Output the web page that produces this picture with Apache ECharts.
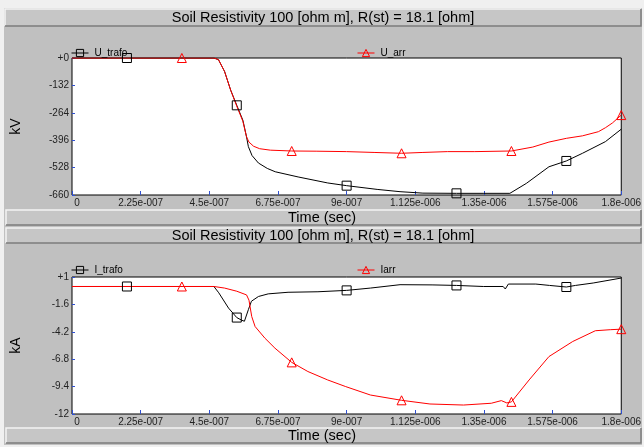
<!DOCTYPE html>
<html>
<head>
<meta charset="utf-8">
<script src="https://cdn.jsdelivr.net/npm/echarts@6/dist/echarts.min.js"></script>
<style>
html, body { margin: 0; padding: 0; background: #f0f0f0; }
#chart { width: 644px; height: 447px; }
</style>
</head>
<body>
<div id="chart"></div>
<script>
// time in ns, values in kV / kA
var titleText = 'Soil Resistivity 100 [ohm m], R(st) = 18.1 [ohm]';
var timeLabels = ['0', '2.25e-007', '4.5e-007', '6.75e-007', '9e-007', '1.125e-006', '1.35e-006', '1.575e-006', '1.8e-006'];
var squareTimes = [180, 540, 900, 1260, 1620];
var triangleTimes = [360, 720, 1080, 1440, 1800];

var uTrafo = [[0, 0], [180, 0], [360, 0], [465, 0], [480, -8], [500, -65], [520, -155], [540, -228], [560, -300],
    [572, -380], [578, -427], [590, -470], [611, -506], [640, -532], [666, -548], [741, -573], [838, -602],
    [900, -615], [1000, -633], [1075, -644], [1150, -651], [1260, -652], [1350, -652], [1435, -652],
    [1489, -604], [1563, -524], [1620, -496], [1673, -459], [1748, -403], [1800, -343]];
var uArr = [[0, 0], [360, 0], [465, 0], [480, -8], [500, -65], [520, -155], [540, -232], [560, -305],
    [572, -380], [580, -405], [595, -425], [615, -437], [650, -444], [720, -448], [800, -449], [900, -451],
    [990, -455], [1080, -459], [1150, -455], [1230, -451], [1320, -451], [1440, -448], [1510, -429],
    [1563, -405], [1620, -387], [1673, -375], [1725, -355], [1748, -336], [1771, -313], [1800, -275]];
var iTrafo = [[0, 0.1], [180, 0.1], [360, 0.1], [465, 0.1], [481, -0.5], [513, -1.95], [540, -2.85], [556, -3.1],
    [565, -3.2], [578, -2.1], [588, -1.3], [611, -0.85], [643, -0.6], [708, -0.45], [806, -0.4], [900, -0.27],
    [978, -0.05], [1075, 0.27], [1180, 0.25], [1260, 0.2], [1348, 0.1], [1413, 0.1], [1420, -0.14],
    [1430, 0.33], [1520, 0.33], [1565, 0.2], [1620, 0.05], [1650, 0.2], [1708, 0.43], [1800, 0.9]];
var iArr = [[0, 0.1], [360, 0.1], [465, 0.1], [500, -0.05], [540, -0.35], [572, -0.7], [580, -1.2], [589, -2.75],
    [600, -3.7], [632, -4.8], [665, -5.75], [720, -7.1], [773, -7.97], [838, -8.77], [897, -9.4], [978, -10.2],
    [1080, -10.7], [1173, -11.05], [1283, -11.15], [1374, -10.98], [1407, -10.73], [1425, -10.95],
    [1440, -10.85], [1498, -8.77], [1563, -6.55], [1641, -5.12], [1715, -4.1], [1764, -4.0], [1800, -3.95]];

var font = 'Liberation Sans, Arial, sans-serif';

// only the marker times keep their symbol
function toPoints(list, marks) {
    return list.map(function (p) {
        if (marks.indexOf(p[0]) != -1) {
            return p;
        }
        return {value: p, symbol: 'none'};
    });
}

function signed(v) {
    v = Math.round(v * 10) / 10;
    return v >= 0 ? '+' + v : '' + v;
}

function xAxis(idx) {
    return {
        type: 'value', gridIndex: idx, min: 0, max: 1800, interval: 225,
        axisLine: {show: false, onZero: false},
        axisTick: {inside: true, length: 4, lineStyle: {color: '#3050d0'}},
        splitLine: {show: false},
        axisLabel: {
            margin: 3, color: '#222', fontSize: 10, fontFamily: font, showMaxLabel: true,
            formatter: function (v) {
                var s = timeLabels[Math.round(v / 225)];
                return v == 0 ? '{first|' + s + '}' : s;
            },
            rich: {first: {padding: [0, 0, 0, 10], fontSize: 10, fontFamily: font, color: '#222'}}
        }
    };
}

function yAxis(idx, name, min, max, step) {
    return {
        type: 'value', gridIndex: idx, min: min, max: max, interval: step,
        name: name, nameLocation: 'middle', nameGap: 49, nameRotate: 90,
        nameTextStyle: {fontSize: 14, fontFamily: font, color: '#000'},
        axisLine: {show: false, onZero: false},
        axisTick: {inside: true, length: 3, lineStyle: {color: '#3050d0'}},
        splitLine: {show: false},
        axisLabel: {margin: 3, color: '#222', fontSize: 10, fontFamily: font, formatter: signed}
    };
}

function line(name, data, marks, color, symbol, axis) {
    return {
        name: name, type: 'line', xAxisIndex: axis, yAxisIndex: axis,
        data: toPoints(data, marks),
        symbol: symbol, symbolSize: 9, showAllSymbol: true,
        itemStyle: {color: 'rgba(0,0,0,0)', borderColor: color, borderWidth: 1},
        lineStyle: {color: color, width: 1},
        emphasis: {disabled: true}
    };
}

function legend(name, left, top) {
    return {
        data: [name], left: left, top: top, itemWidth: 17, itemHeight: 9, itemGap: 4,
        padding: 0, selectedMode: false,
        lineStyle: {width: 1},
        itemStyle: {color: 'rgba(0,0,0,0)', borderWidth: 1},
        textStyle: {fontSize: 10, fontFamily: font, color: '#000', padding: [0, 0, 0, 1]}
    };
}

// raised grey bar with light top/left and dark bottom/right edge
function panel(x, y, w, h) {
    return [
        {type: 'rect', shape: {x: x, y: y, width: w, height: h}, style: {fill: '#c6c6c6'}},
        {type: 'polyline', shape: {points: [[x, y + h], [x, y], [x + w, y]]}, style: {stroke: '#f4f4f4', lineWidth: 1.5, fill: null}},
        {type: 'polyline', shape: {points: [[x, y + h], [x + w, y + h], [x + w, y]]}, style: {stroke: '#7c7c7c', lineWidth: 1.5, fill: null}}
    ];
}

function label(text, x, y) {
    return {
        type: 'text', x: x, y: y,
        style: {text: text, fill: '#000', font: '14.5px ' + font, align: 'center', verticalAlign: 'middle'}
    };
}

var graphics = [].concat(
    panel(5, 9, 636, 17), panel(6, 210, 635, 15), panel(6, 228, 635, 15), panel(6, 428, 635, 15),
    [label(titleText, 323, 18), label('Time (sec)', 322, 218), label(titleText, 323, 236), label('Time (sec)', 322, 436)]
);
// light outer frame, drawn on top so it clips the last tick label
[[0, 0, 644, 8], [0, 0, 4, 447], [642, 0, 2, 447], [0, 445, 644, 2]].forEach(function (r) {
    graphics.push({type: 'rect', z: 100, shape: {x: r[0], y: r[1], width: r[2], height: r[3]}, style: {fill: '#f0f0f0'}});
});

var chart = echarts.init(document.getElementById('chart'));
chart.setOption({
    backgroundColor: '#c0c0c0',
    animation: false,
    graphic: graphics,
    legend: [legend('U_trafo', 71, 48), legend('U_arr', 357, 48), legend('I_trafo', 71, 265), legend('Iarr', 357, 265)],
    grid: [
        {left: 72, top: 58, width: 554, height: 137, show: true, backgroundColor: '#fff', borderColor: '#000', borderWidth: 1},
        {left: 72, top: 277, width: 554, height: 137, show: true, backgroundColor: '#fff', borderColor: '#000', borderWidth: 1}
    ],
    xAxis: [xAxis(0), xAxis(1)],
    yAxis: [yAxis(0, 'kV', -660, 0, 132), yAxis(1, 'kA', -12, 1, 2.6)],
    series: [
        line('U_trafo', uTrafo, squareTimes, '#000', 'rect', 0),
        line('U_arr', uArr, triangleTimes, '#ff0000', 'triangle', 0),
        line('I_trafo', iTrafo, squareTimes, '#000', 'rect', 1),
        line('Iarr', iArr, triangleTimes, '#ff0000', 'triangle', 1)
    ]
});
</script>
</body>
</html>
